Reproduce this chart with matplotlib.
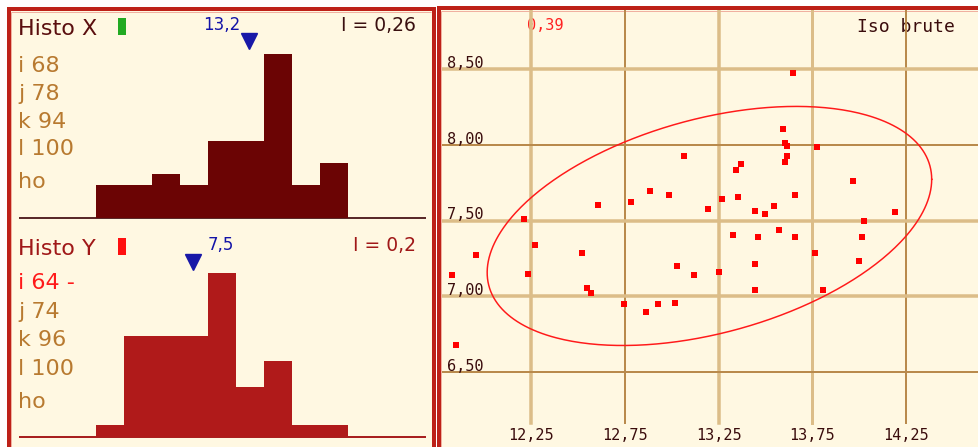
import numpy as np
import matplotlib
matplotlib.use("Agg")
import matplotlib.pyplot as plt
from matplotlib.patches import Rectangle

# ---------------- data ----------------
x_vals = [11.827, 11.849, 11.954, 12.212, 12.270, 12.231, 12.606, 12.521, 12.546, 12.568,
          12.781, 12.884, 12.985, 13.065, 13.191, 12.745, 12.863, 12.927, 13.017, 13.026,
          13.120, 13.252, 13.325, 13.462, 13.444, 13.444, 13.574, 13.658, 13.764, 13.809,
          13.999, 14.017, 14.027, 13.270, 13.355, 13.442, 13.498, 13.547, 13.658, 13.341,
          13.368, 13.592, 13.604, 13.617, 13.617, 13.603, 13.775, 13.645, 13.966, 14.191]
y_vals = [7.140, 6.678, 7.270, 7.513, 7.338, 7.150, 7.602, 7.287, 7.054, 7.023,
          7.622, 7.697, 7.668, 7.928, 7.576, 6.949, 6.896, 6.949, 6.957, 7.202,
          7.140, 7.160, 7.404, 7.393, 7.213, 7.041, 7.439, 7.393, 7.287, 7.041,
          7.233, 7.393, 7.499, 7.642, 7.653, 7.565, 7.545, 7.598, 7.668, 7.833,
          7.870, 8.102, 8.014, 7.992, 7.924, 7.887, 7.982, 8.476, 7.761, 7.554]
n_bins = 9
x_marker = 13.262
y_marker = 7.370
x_mean_label = "13,2"
y_mean_label = "7,5"
x_index_label = "I = 0,26"
y_index_label = "I = 0,2"
x_side_labels = ["i 68", "j 78", "k 94", "l 100", "ho"]
y_side_labels = ["i 64 -", "j 74", "k 96", "l 100", "ho"]
x_title = "Histo X"
y_title = "Histo Y"
corr_label = "0,39"
scatter_title = "Iso brute"
x_ticks = [12.25, 12.75, 13.25, 13.75, 14.25]
x_tick_labels = ["12,25", "12,75", "13,25", "13,75", "14,25"]
y_ticks = [6.50, 7.00, 7.50, 8.00, 8.50]
y_tick_labels = ["6,50", "7,00", "7,50", "8,00", "8,50"]
ell_half_x = 1.186
ell_half_y = 0.789
ell_rho = 0.39

# ---------------- layout ----------------
W, H = 979, 447
fig = plt.figure(figsize=(W / 100, H / 100), dpi=100)
fig.patch.set_facecolor("white")


def rect(x0, y0, w, h):
    return [x0 / W, 1 - (y0 + h) / H, w / W, h / H]


PX = 0.72  # points per pixel
cream = "#fff8e2"
border = "#bd2118"

bg = fig.add_axes([0, 0, 1, 1], zorder=0)
bg.set_xlim(0, W)
bg.set_ylim(H, 0)
bg.axis("off")

# panels
bg.add_patch(Rectangle((9, 9), 425, 445, fc=cream, ec="none"))
bg.add_patch(Rectangle((439, 8), 545, 445, fc=cream, ec="none"))
for xs, ys in [([9, 9], [7, 450]), ([7, 436], [9, 9]), ([434, 434], [7, 450]),
               ([439, 439], [6, 450]), ([437, 985], [8, 8])]:
    bg.plot(xs, ys, color=border, lw=4 * PX, solid_capstyle="butt")
for xs, ys in [([11.5, 11.5], [11.5, 450]), ([11.5, 431.5], [11.5, 11.5]),
               ([441.5, 441.5], [10.5, 450]), ([441.5, 985], [10.5, 10.5])]:
    bg.plot(xs, ys, color="#f0b0a0", lw=1 * PX, solid_capstyle="butt")

# ---------------- histograms ----------------
hist_specs = [
    (x_vals, 218.0, "#6b0404", "#5a2a2a", x_marker, x_title, "#5a0e0e", "#22aa22",
     x_mean_label, (222, 30), x_index_label, "#3a1010", x_side_labels,
     [71.7, 100, 128, 155, 188], 35, 18, 41),
    (y_vals, 437.3, "#b01a1a", "#a82020", y_marker, y_title, "#a01818", "#ff1010",
     y_mean_label, (221, 250), y_index_label, "#a01818", y_side_labels,
     [289.3, 317.7, 345.7, 375, 407.7], 255, 238, 262),
]
bar_h = 164.4
for (vals, base, bar_col, base_col, mk, title, title_col, sq_col, mean_lbl, mean_pos,
     idx_lbl, idx_col, side, side_y, title_y, sq_y, mk_y) in hist_specs:
    counts, edges = np.histogram(vals, bins=n_bins)
    ax = fig.add_axes(rect(96, base - bar_h, 252, bar_h), zorder=1)
    ax.set_xlim(edges[0], edges[-1])
    ax.set_ylim(0, 1)
    ax.axis("off")
    ax.stairs(counts / counts.max(), edges, fill=True, color=bar_col, lw=0)
    ax.plot([mk], [(base - mk_y) / bar_h], marker="v", ms=11.5, color="#1818a8",
            clip_on=False, ls="none")
    bg.plot([20, 425], [base, base], color=base_col, lw=2 * PX, zorder=3)
    bg.text(18, title_y, title, fontsize=16, color=title_col, va="baseline", ha="left",
            family="DejaVu Sans")
    bg.add_patch(Rectangle((118, sq_y), 8, 17, fc=sq_col, ec="none"))
    bg.text(mean_pos[0], mean_pos[1], mean_lbl, fontsize=12, color="#1414a8",
            ha="center", va="baseline", family="DejaVu Sans")
    bg.text(416, title_y - 4, idx_lbl, fontsize=13.5, color=idx_col, ha="right",
            va="baseline", family="DejaVu Sans")
    for i, (lab, yy) in enumerate(zip(side, side_y)):
        col = "#b87a30"
        if lab.endswith("-"):
            col = "#ff1a1a"
        bg.text(18, yy, lab, fontsize=16, color=col, ha="left", va="baseline",
                family="DejaVu Sans")

# ---------------- scatter ----------------
axs = fig.add_axes(rect(442, 10, 537, 437), zorder=1)
x_lo, x_hi = 11.774, 14.6395
y_lo, y_hi = 6.005, 8.8894
axs.set_xlim(x_lo, x_hi)
axs.set_ylim(y_lo, y_hi)
axs.axis("off")

light = "#dcbd88"
dark = "#b98a4c"
x_grid_style = [light, dark, light, light, dark]
y_grid_style = [dark, light, light, dark, light]
x_grid_w = [3.5, 2, 3.5, 3, 2]
y_grid_w = [2, 3.5, 3.5, 2, 3.5]
for v, c, w in zip(x_ticks, x_grid_style, x_grid_w):
    axs.axvline(v, ymin=(447 - 423) / 437, ymax=1, color=c, lw=w * PX, zorder=1)
for v, c, w in zip(y_ticks, y_grid_style, y_grid_w):
    axs.axhline(v, xmin=0, xmax=(977 - 442) / 537, color=c, lw=w * PX, zorder=1)

tick_col = "#3a0c0c"
for v, lab in zip(x_ticks, x_tick_labels):
    axs.text(v, (447 - 440) / 437, lab, transform=axs.get_xaxis_transform(),
             ha="center", va="baseline", fontsize=11, color=tick_col,
             family="DejaVu Sans Mono")
for v, lab in zip(y_ticks, y_tick_labels):
    axs.text((447 - 442) / 537, v + 1.2 / 151.5, lab, transform=axs.get_yaxis_transform(),
             ha="left", va="baseline", fontsize=11, color=tick_col,
             family="DejaVu Sans Mono")

# ellipse
cx, cy = np.mean(x_vals), np.mean(y_vals)
t = np.linspace(0, 2 * np.pi, 400)
ex = cx + ell_half_x * np.cos(t)
ey = cy + ell_half_y * (ell_rho * np.cos(t) + np.sqrt(1 - ell_rho ** 2) * np.sin(t))
axs.plot(ex, ey, color="#ff1a1a", lw=1.5 * PX, zorder=2)

axs.plot(x_vals, y_vals, ls="none", marker="s", ms=4.8, mew=0, color="#ff0000", zorder=3)

bg.text(527, 30, corr_label, fontsize=11, color="#ff2020", ha="left", va="baseline",
        family="DejaVu Sans Mono", zorder=5)
bg.text(857, 32, scatter_title, fontsize=13, color=tick_col, ha="left", va="baseline",
        family="DejaVu Sans Mono", zorder=5)

fig.savefig("out.png", dpi=100, facecolor="white")
